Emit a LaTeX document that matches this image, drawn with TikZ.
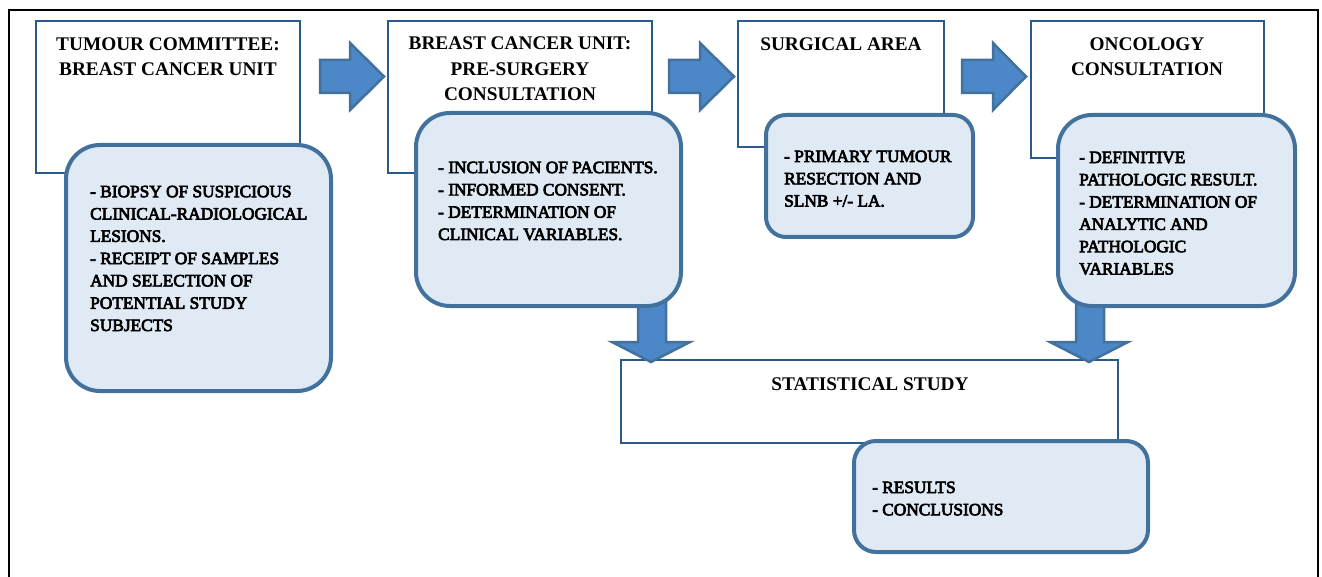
\documentclass[tikz,border=0pt]{standalone}
\usepackage{fontspec}
\setmainfont{Liberation Serif}
\newfontfamily\bodyf[FakeBold=4]{Liberation Serif}
\definecolor{rectblue}{HTML}{2B5A8A}
\definecolor{rblue}{HTML}{41719C}
\definecolor{rfill}{HTML}{E0EAF5}
\definecolor{afill}{HTML}{4C87C7}
\tikzset{
  hbox/.style={draw=rectblue, line width=1.5pt, fill=white},
  rbox/.style={draw=rblue, line width=4pt, fill=rfill},
  barrow/.style={draw=rblue, line width=2.5pt, fill=afill, line join=miter},
  htext/.style={inner sep=0pt, align=center, anchor=base, font=\fontsize{19.3}{25.5}\selectfont\bfseries},
  btext/.style={inner sep=0pt, align=left, anchor=base west, font=\bodyf\fontsize{17.3}{22.3}\selectfont},
}
\begin{document}
\begin{tikzpicture}[x=1pt,y=-1pt]
\useasboundingbox (0,0) rectangle (1322,577);
\clip (0,0) rectangle (1322,577);
\fill[white] (0,0) rectangle (1322,577);
% outer frame
\draw[black, line width=1.8pt] (9,10) rectangle (1318,620);

% header rectangles
\path[hbox] (36,21) rectangle (300,173);
\path[hbox] (388,21) rectangle (652,173);
\path[hbox] (738,21) rectangle (944,147);
\path[hbox] (1031,21) rectangle (1264,158);
\path[hbox] (621,360) rectangle (1118,443);

% (anchor base = baseline of last line)
\node[htext] (h1) at (168,76) {TUMOUR COMMITTEE:\\BREAST CANCER UNIT};
\node[htext] (h2) at (520,101) {BREAST CANCER UNIT:\\PRE-SURGERY\\CONSULTATION};
\node[htext] (h3) at (841,51) {SURGICAL AREA};
\node[htext] (h4) at (1147,76) {ONCOLOGY\\CONSULTATION};
\node[htext] (h5) at (870,390) {STATISTICAL STUDY};

% down arrows
\path[barrow] (638,290) -- (666,290) -- (666,342) -- (690,342) -- (651,362) -- (612,342) -- (638,342) -- cycle;
\path[barrow] (1076,290) -- (1104,290) -- (1104,342) -- (1128,342) -- (1089,362) -- (1050,342) -- (1076,342) -- cycle;

% rounded boxes
\path[rbox, rounded corners=34pt] (66,145) rectangle (331,391);
\path[rbox, rounded corners=34pt] (416,113) rectangle (681,306);
\path[rbox, rounded corners=20pt] (766,115) rectangle (973,237);
\path[rbox, rounded corners=34pt] (1058,115) rectangle (1295,306);
\path[rbox, rounded corners=22pt] (854,441) rectangle (1148,552);

\node[btext] (t1) at (90,331) {- BIOPSY OF SUSPICIOUS\\CLINICAL-RADIOLOGICAL\\LESIONS.\\- RECEIPT OF SAMPLES\\AND SELECTION OF\\POTENTIAL STUDY\\SUBJECTS};
\node[btext] (t2) at (438,240) {- INCLUSION OF PACIENTS.\\- INFORMED CONSENT.\\- DETERMINATION OF\\CLINICAL VARIABLES.};
\node[btext] (t3) at (784,206.6) {- PRIMARY TUMOUR\\RESECTION AND\\SLNB +/- LA.};
\node[btext] (t4) at (1079,274.5) {- DEFINITIVE\\PATHOLOGIC RESULT.\\- DETERMINATION OF\\ANALYTIC AND\\PATHOLOGIC\\VARIABLES};
\node[btext] (t5) at (872,515.3) {- RESULTS\\- CONCLUSIONS};

% right arrows
\path[barrow] (320,60) -- (350,60) -- (350,43) -- (384,76.5) -- (350,110) -- (350,93) -- (320,93) -- cycle;
\path[barrow] (669,60) -- (700,60) -- (700,43) -- (734,76.5) -- (700,110) -- (700,93) -- (669,93) -- cycle;
\path[barrow] (962,60) -- (993,60) -- (993,43) -- (1026,76.5) -- (993,110) -- (993,93) -- (962,93) -- cycle;
\end{tikzpicture}
\end{document}
